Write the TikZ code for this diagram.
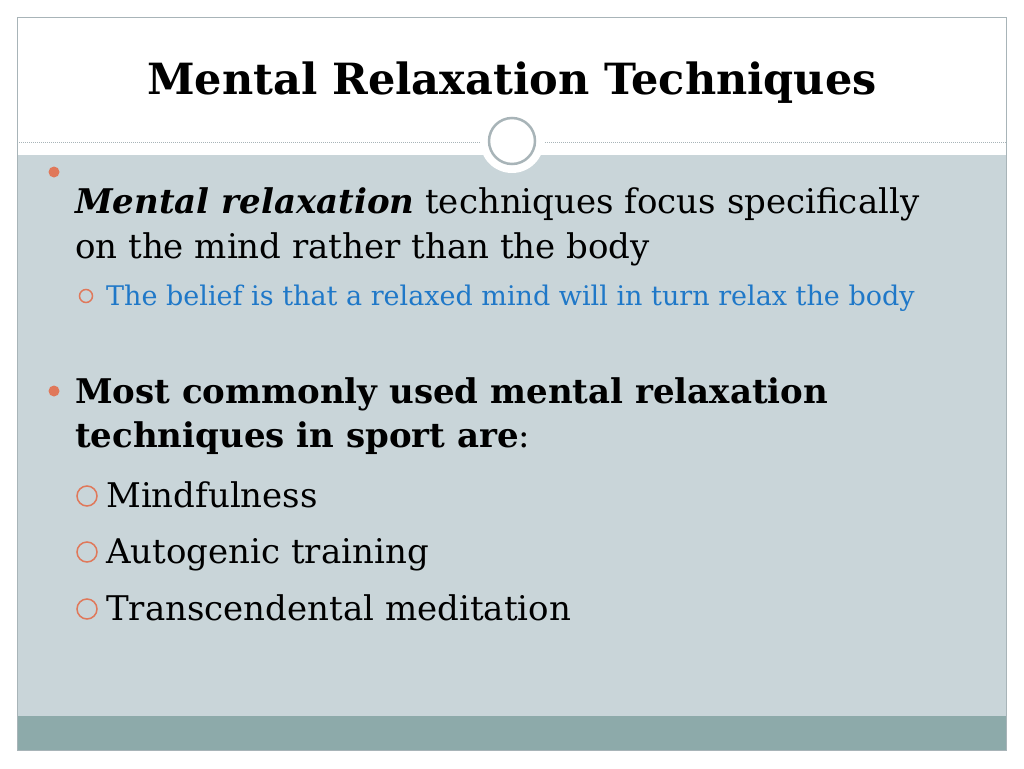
\documentclass[tikz,border=0pt]{standalone}
\usepackage{fontspec}
\setmainfont{DejaVu Serif}
\definecolor{bodybg}{HTML}{C9D5D9}
\definecolor{bandbg}{HTML}{8DAAAA}
\definecolor{framecol}{HTML}{A8B4B8}
\definecolor{bulletcol}{HTML}{E0785A}
\definecolor{subcol}{HTML}{1F78C8}
\tikzset{
  txt/.style={anchor=base west, inner sep=0pt, font=\fontsize{34}{38}\selectfont},
  subtxt/.style={anchor=base west, inner sep=0pt, font=\fontsize{27}{30}\selectfont, text=subcol},
  dot/.style={circle, fill=bulletcol, inner sep=0pt, minimum size=11pt},
  ring/.style={circle, draw=bulletcol, line width=1.5pt, inner sep=0pt}
}
\begin{document}
\begin{tikzpicture}[x=1pt,y=-1pt]
\useasboundingbox (0,0) rectangle (1024,768);
\fill[white] (0,0) rectangle (1024,768);
% panels
\fill[bodybg] (17,155) rectangle (1006,716);
\fill[bandbg] (17,716) rectangle (1006,750);
\draw[framecol] (17,17) rectangle (1006,750);
\draw[framecol, dashed, dash pattern=on 1pt off 1pt] (17,142) -- (1006,142);
\node[circle, fill=white, minimum size=64pt] (badge) at (512,141) {};
\node[circle, draw=framecol, line width=2.5pt, minimum size=46pt] (badgein) at (512,141) {};
% title
\node[anchor=base, inner sep=0pt, font=\fontsize{43}{48}\selectfont\bfseries] (title) at (512,94) {Mental Relaxation Techniques};
% first bullet
\node[dot] (b1) at (54,172) {};
\node[txt] (l1) at (75,213) {\textbf{\textit{Mental relaxation}} techniques focus specifically};
\node[txt] (l2) at (75,258) {on the mind rather than the body};
\node[ring, minimum size=13pt] (s1) at (86,296) {};
\node[subtxt] (l3) at (106,305) {The belief is that a relaxed mind will in turn relax the body};
% second bullet
\node[dot] (b2) at (54,391) {};
\node[txt] (l4) at (75,403) {\textbf{Most commonly used mental relaxation}};
\node[txt] (l5) at (75,447) {\textbf{techniques in sport are}:};
\foreach \y/\t [count=\i] in {507/Mindfulness, 563/Autogenic training, 620/Transcendental meditation}{
  \node[ring, minimum size=20pt] (r\i) at (87,\y-11) {};
  \node[txt] (m\i) at (106,\y) {\t};
}
\end{tikzpicture}
\end{document}
